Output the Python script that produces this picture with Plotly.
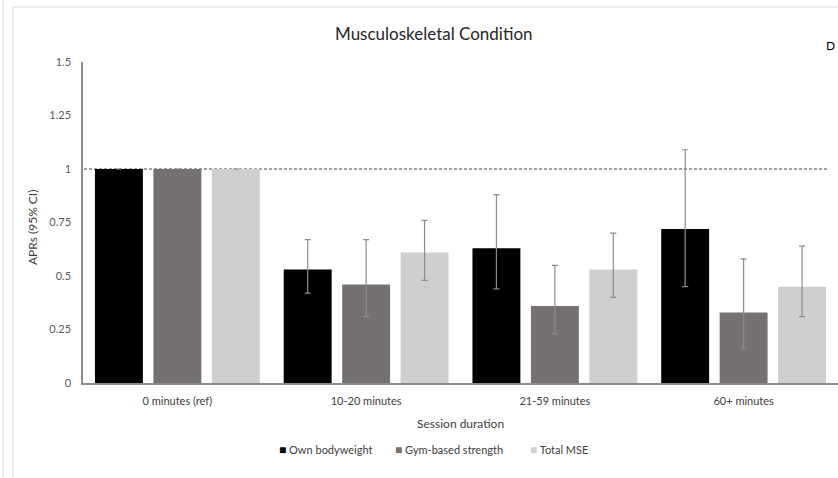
import plotly.graph_objects as go

# Session duration categories
categories = ["0 minutes (ref)", "10-20 minutes", "21-59 minutes", "60+ minutes"]

# Adjusted prevalence ratios with 95% confidence limits
own_bodyweight = [1.0, 0.53, 0.63, 0.72]
own_bodyweight_lo = [1.0, 0.42, 0.44, 0.45]
own_bodyweight_hi = [1.0, 0.67, 0.88, 1.09]

gym_strength = [1.0, 0.46, 0.36, 0.33]
gym_strength_lo = [1.0, 0.31, 0.23, 0.16]
gym_strength_hi = [1.0, 0.67, 0.55, 0.58]

total_mse = [1.0, 0.61, 0.53, 0.45]
total_mse_lo = [1.0, 0.48, 0.40, 0.31]
total_mse_hi = [1.0, 0.76, 0.70, 0.64]

series_names = ["Own bodyweight", "Gym-based strength", "Total MSE"]
series_colors = ["#000000", "#767171", "#d0cece"]

y_ticks = [0, 0.25, 0.5, 0.75, 1, 1.25, 1.5]
y_tick_text = ["0", "0.25", "0.5", "0.75", "1", "1.25", "1.5"]
reference_value = 1.0

FONT = "Lato, 'Open Sans', sans-serif"
W, H = 838, 478
L, R, T, B = 83, 0, 62, 95
PW, PH = W - L - R, H - T - B


def px_x(px):
    return (px - L) / PW


def px_y(py):
    return (H - B - py) / PH


def add_series(fig, name, vals, lo, hi, color):
    has_ci = [v != l or v != h for v, l, h in zip(vals, lo, hi)]
    fig.add_trace(go.Bar(
        name=name,
        x=categories,
        y=vals,
        showlegend=False,
        marker=dict(color=color, line=dict(width=0)),
        error_y=dict(
            type="data",
            symmetric=False,
            array=[h - v if c else 0 for v, h, c in zip(vals, hi, has_ci)],
            arrayminus=[v - l if c else 0 for v, l, c in zip(vals, lo, has_ci)],
            color="#8c8c8c",
            thickness=1.2,
            width=3,
            visible=True,
        ),
    ))


fig = go.Figure()
add_series(fig, series_names[0], own_bodyweight, own_bodyweight_lo, own_bodyweight_hi, series_colors[0])
add_series(fig, series_names[1], gym_strength, gym_strength_lo, gym_strength_hi, series_colors[1])
add_series(fig, series_names[2], total_mse, total_mse_lo, total_mse_hi, series_colors[2])

# Dashed reference line at APR = 1
fig.add_shape(type="line", xref="paper", yref="y",
              x0=px_x(84), x1=px_x(829), y0=reference_value, y1=reference_value,
              line=dict(color="#404040", width=1, dash="3px,2px"), layer="below")

# Light chart frame
fig.add_shape(type="line", xref="paper", yref="paper",
              x0=px_x(3), x1=px_x(3), y0=px_y(0), y1=px_y(H),
              line=dict(color="#d9d9d9", width=1))
fig.add_shape(type="line", xref="paper", yref="paper",
              x0=px_x(13), x1=px_x(13), y0=px_y(7), y1=px_y(H),
              line=dict(color="#d9d9d9", width=1))
fig.add_shape(type="line", xref="paper", yref="paper",
              x0=px_x(13), x1=px_x(W), y0=px_y(7), y1=px_y(7),
              line=dict(color="#d9d9d9", width=1))

fig.add_annotation(text="Musculoskeletal Condition", xref="paper", yref="paper",
                   x=px_x(434), y=px_y(33), showarrow=False,
                   font=dict(family=FONT, size=17, color="#262626"),
                   xanchor="center", yanchor="middle")
fig.add_annotation(text="D", xref="paper", yref="paper",
                   x=px_x(830), y=px_y(45), showarrow=False,
                   font=dict(family=FONT, size=12, color="#000000"),
                   xanchor="center", yanchor="middle")
fig.add_annotation(text="APRs (95% CI)", xref="paper", yref="paper",
                   x=px_x(33), y=px_y(227), showarrow=False, textangle=-90,
                   font=dict(family=FONT, size=12, color="#404040"),
                   xanchor="center", yanchor="middle")
fig.add_annotation(text="Session duration", xref="paper", yref="paper",
                   x=px_x(460), y=px_y(423), showarrow=False,
                   font=dict(family=FONT, size=12, color="#404040"),
                   xanchor="center", yanchor="middle")

# Compact legend row: small colour square followed by the series name
legend_left_px = [277, 393, 528]
for name, color, lx in zip(series_names, series_colors, legend_left_px):
    fig.add_annotation(
        text=f"<span style='color:{color};font-size:12px'>■</span> {name}",
        xref="paper", yref="paper", x=px_x(lx), y=px_y(449),
        showarrow=False, xanchor="left", yanchor="middle",
        font=dict(family=FONT, size=11, color="#404040"),
    )

fig.update_layout(
    width=W, height=H,
    margin=dict(l=L, r=R, t=T, b=B, pad=0),
    paper_bgcolor="white", plot_bgcolor="white",
    barmode="group", bargap=0.071, bargroupgap=0.18,
    font=dict(family=FONT, size=11, color="#595959"),
    showlegend=False,
    xaxis=dict(showgrid=False, showline=True, linecolor="#8c8c8c", linewidth=1.5,
               ticks="", ticklabelstandoff=7, tickfont=dict(size=11, color="#404040"),
               zeroline=False),
    yaxis=dict(range=[0, 1.5], tickvals=y_ticks, ticktext=y_tick_text,
               showgrid=False, showline=True, linecolor="#8c8c8c", linewidth=1.5,
               ticks="", ticklabelstandoff=8, zeroline=False,
               tickfont=dict(size=11, color="#595959")),
)

fig.write_html("out.html")
